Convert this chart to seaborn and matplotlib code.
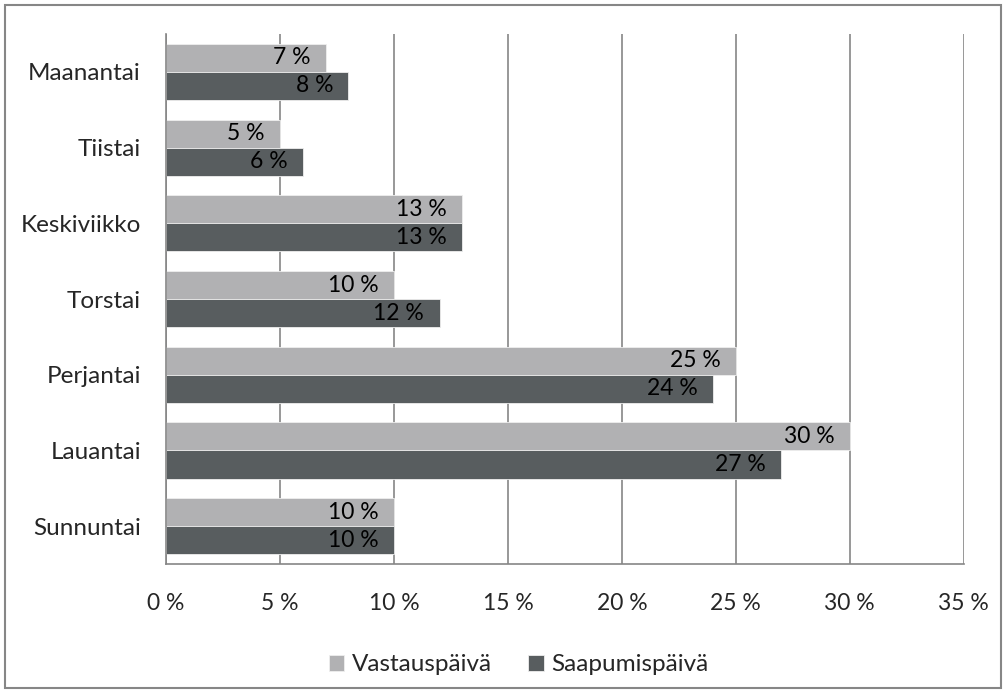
import seaborn as sns
import matplotlib.pyplot as plt
import pandas as pd
from matplotlib.patches import Rectangle
from matplotlib.ticker import FixedLocator, FuncFormatter

# Data
paivat = ["Maanantai", "Tiistai", "Keskiviikko", "Torstai", "Perjantai", "Lauantai", "Sunnuntai"]
vastauspaiva = [7, 5, 13, 10, 25, 30, 10]
saapumispaiva = [8, 6, 13, 12, 24, 27, 10]
sarjat = ["Vastauspäivä", "Saapumispäivä"]
varit = ["#b0b1b4", "#575e60"]

df = pd.DataFrame({
    "paiva": paivat * 2,
    "arvo": vastauspaiva + saapumispaiva,
    "sarja": [sarjat[0]] * len(paivat) + [sarjat[1]] * len(paivat),
})

sns.set_style("white")
plt.rcParams["font.family"] = ["Lato", "DejaVu Sans"]
fs_txt = 17.5
fs_num = 16.5

fig = plt.figure(figsize=(10.06, 6.93), dpi=100)
ax = fig.add_axes([0.165, 0.186, 0.793, 0.765])

sns.barplot(data=df, y="paiva", x="arvo", hue="sarja", orient="h",
            palette=varit, width=0.74, ax=ax, legend=True, linewidth=0.6, edgecolor="#eeeeee")

# arvot palkkien sisään oikeaan reunaan
for cont in ax.containers:
    ax.bar_label(cont, labels=[f"{v:g} %" for v in cont.datavalues],
                 padding=-11, fontsize=fs_num, color="black")
for lab in ax.texts:
    lab.set_ha("right")

ax.set_xlim(0, 35)
ax.set_xticks(range(0, 36, 5))
ax.xaxis.set_major_formatter(FuncFormatter(lambda v, p: f"{v:.0f} %"))
ax.set_ylim(len(paivat) - 0.5, -0.5)
ax.yaxis.set_minor_locator(FixedLocator([i - 0.5 for i in range(len(paivat) + 1)]))
ax.tick_params(axis="y", which="major", length=0, labelsize=fs_txt, pad=18)
ax.tick_params(axis="y", which="minor", length=6, color="#868686", width=1.2, direction="out")
ax.tick_params(axis="x", length=6, color="#868686", width=1.2, direction="out", labelsize=fs_num, pad=15)
ax.set_xlabel("")
ax.set_ylabel("")

ax.grid(axis="x", color="#868686", linewidth=1.2)
ax.set_axisbelow(True)
for s in ["top", "right"]:
    ax.spines[s].set_visible(False)
for s in ["left", "bottom"]:
    ax.spines[s].set_color("#868686")
    ax.spines[s].set_linewidth(1.2)

ax.legend(loc="center", bbox_to_anchor=(0.442, -0.19), ncol=2, frameon=False,
          fontsize=fs_txt, handlelength=0.65, handleheight=0.65, handletextpad=0.3,
          columnspacing=1.5)

fig.patches.append(Rectangle((0.005, 0.007), 0.99, 0.986, transform=fig.transFigure,
                             fill=False, edgecolor="#868686", linewidth=1.5))

fig.savefig("out.png", dpi=100)
